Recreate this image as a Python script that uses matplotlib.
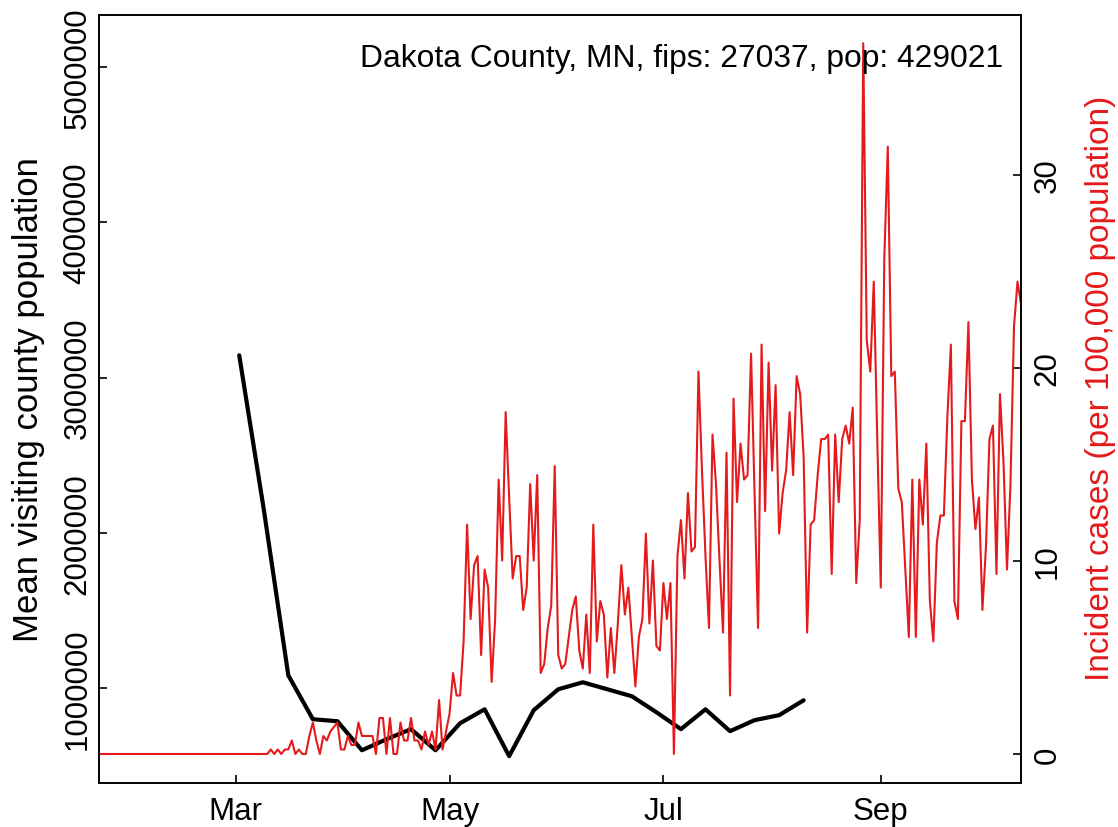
import matplotlib
matplotlib.use("Agg")
import matplotlib.pyplot as plt
import numpy as np
import pandas as pd

plt.rcParams['font.family'] = ['Liberation Sans', 'DejaVu Sans']

# ---- data ----
title_text = "Dakota County, MN, fips: 27037, pop: 429021"
county_pop = 429021
left_label = "Mean visiting county population"
right_label = "Incident cases (per 100,000 population)"

# weekly mean visiting county population (Mondays, from 2020-03-02)
black_start = "2020-03-02"
black_values = [3144000, 2152000, 1082000, 799000, 786000, 599000, 670000, 735000,
                599000, 773000, 863000, 561000, 857000, 992000, 1037000, 992000,
                947000, 844000, 735000, 863000, 722000, 793000, 825000, 921000]

# daily incident case counts, from 2020-01-22
red_start = "2020-01-22"
red_counts = [
    0, 0, 0, 0, 0, 0, 0, 0, 0, 0,
    0, 0, 0, 0, 0, 0, 0, 0, 0, 0,
    0, 0, 0, 0, 0, 0, 0, 0, 0, 0,
    0, 0, 0, 0, 0, 0, 0, 0, 0, 0,
    0, 0, 0, 0, 0, 0, 0, 0, 0, 1,
    0, 1, 0, 1, 1, 3, 0, 1, 0, 0,
    4, 7, 3, 0, 4, 3, 5, 6, 7, 1,
    1, 4, 2, 2, 7, 4, 4, 4, 4, 0,
    8, 8, 0, 8, 0, 0, 7, 3, 3, 8,
    3, 3, 1, 5, 2, 5, 1, 12, 1, 5,
    9, 18, 13, 13, 25, 51, 30, 42, 44, 22,
    41, 37, 16, 30, 61, 43, 76, 57, 39, 44,
    44, 32, 37, 60, 43, 62, 18, 20, 28, 33,
    64, 22, 19, 20, 26, 32, 35, 23, 19, 31,
    18, 51, 25, 34, 31, 17, 28, 18, 29, 42,
    31, 37, 26, 15, 26, 30, 49, 29, 43, 24,
    23, 38, 30, 38, 0, 44, 52, 39, 58, 45,
    46, 85, 63, 44, 28, 71, 60, 43, 27, 67,
    13, 79, 56, 69, 61, 62, 89, 58, 28, 91,
    54, 87, 63, 82, 49, 58, 63, 76, 62, 84,
    80, 66, 27, 51, 52, 62, 70, 70, 71, 40,
    71, 56, 70, 73, 69, 77, 38, 52, 158, 92,
    85, 105, 70, 37, 110, 135, 84, 85, 59, 56,
    41, 26, 61, 26, 61, 51, 69, 34, 25, 47,
    53, 53, 75, 91, 34, 30, 74, 74, 96, 61,
    50, 57, 32, 46, 70, 73, 40, 80, 65, 41,
    60, 95, 105, 100,
]

left_ticks = [1000000, 2000000, 3000000, 4000000, 5000000]
left_ticklabels = ["1000000", "2000000", "3000000", "4000000", "5000000"]
right_ticks = [0, 10, 20, 30]
right_ticklabels = ["0", "10", "20", "30"]
x_ticks = ["2020-03-01", "2020-05-01", "2020-07-01", "2020-09-01"]
x_ticklabels = ["Mar", "May", "Jul", "Sep"]

# ---- derived series ----
black_dates = pd.date_range(black_start, periods=len(black_values), freq="7D")
red_dates = pd.date_range(red_start, periods=len(red_counts), freq="D")
red_rate = np.array(red_counts) * 1e5 / county_pop

W, H = 1118, 828
fig = plt.figure(figsize=(W / 100, H / 100), dpi=100)
L, R, T, B = 99, 1021, 16, 784
ax = fig.add_axes([L / W, 1 - B / H, (R - L) / W, (B - T) / H])

FS = 22.5
RED = "#E41A1C"

ax.plot(black_dates, black_values, color="black", lw=3,
        solid_joinstyle="round", solid_capstyle="round", zorder=2)
ax.set_ylim(388000, 5337000)
ax.set_xlim(red_dates[0], red_dates[-1])

ax2 = ax.twinx()
ax2.plot(red_dates, red_rate, color=RED, lw=1.5, solid_joinstyle="round")
ax2.set_ylim(-1.503, 38.29)
ax2.set_xlim(red_dates[0], red_dates[-1])

for a in (ax, ax2):
    for s in a.spines.values():
        s.set_linewidth(1.2)

ax.set_xticks(pd.to_datetime(x_ticks))
ax.set_xticklabels(x_ticklabels, fontsize=FS)
ax.set_yticks(left_ticks)
ax.set_yticklabels(left_ticklabels, fontsize=FS, rotation=90, va="center")
ax.tick_params(axis="x", direction="in", length=6, width=1.2, pad=9.5)
ax.tick_params(axis="y", direction="in", length=6, width=1.2, pad=4.5)
ax.minorticks_off()

ax2.set_yticks(right_ticks)
ax2.set_yticklabels(right_ticklabels, fontsize=FS, rotation=90, va="center")
ax2.tick_params(axis="y", direction="in", length=6, width=1.2, pad=8.5)

fig.text(29 / W, 1 - 400 / H, left_label, rotation=90, ha="center", va="center",
         fontsize=25, color="black")
fig.text(1100 / W, 1 - 388 / H, right_label, rotation=90, ha="center", va="center",
         fontsize=24, color=RED)
fig.text(1003 / W, 1 - 67 / H, title_text, ha="right", va="baseline", fontsize=22.9)

fig.savefig("out.png", dpi=100)
